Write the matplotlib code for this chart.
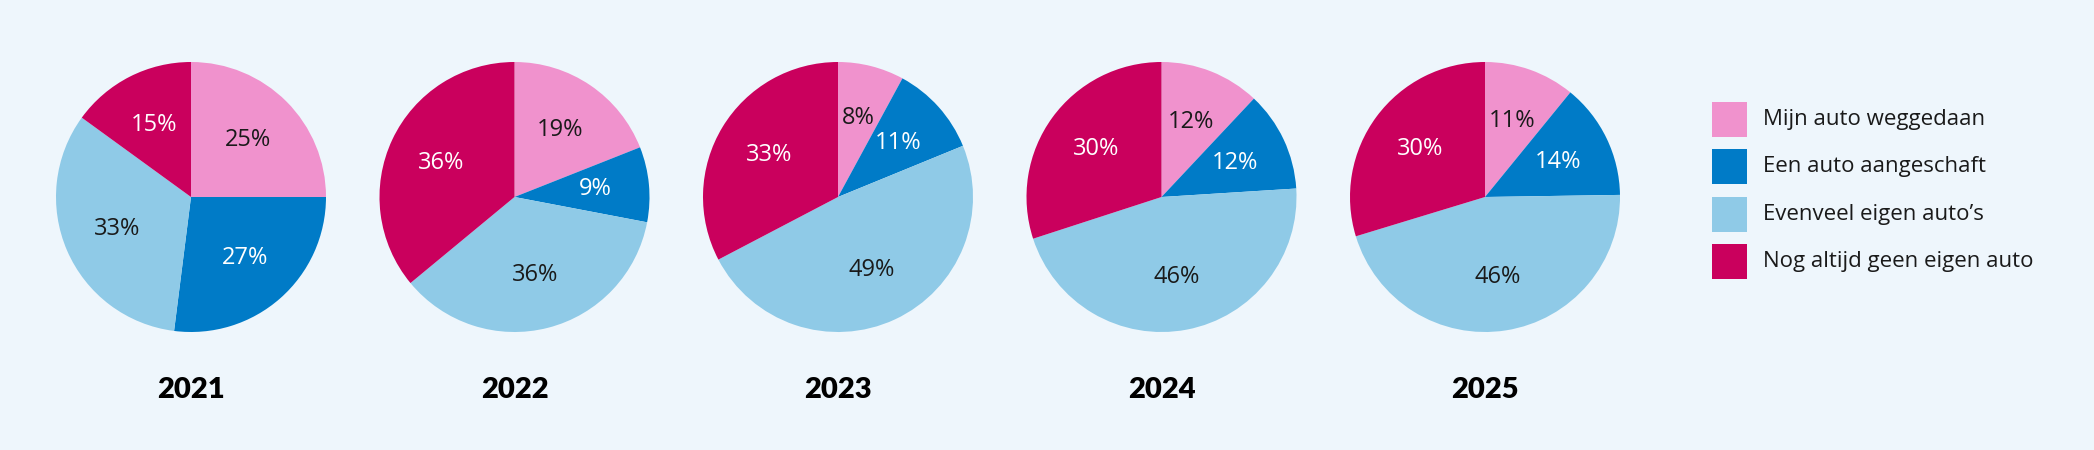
import matplotlib.pyplot as plt
from matplotlib.patches import Rectangle

years = ['2021', '2022', '2023', '2024', '2025']
categories = ['Mijn auto weggedaan', 'Een auto aangeschaft',
              'Evenveel eigen auto\u2019s', 'Nog altijd geen eigen auto']
# per year: weggedaan, aangeschaft, evenveel, geen auto
shares = [
    [25, 27, 33, 15],
    [19, 9, 36, 36],
    [8, 11, 49, 33],
    [12, 12, 46, 30],
    [11, 14, 46, 30],
]
colors = ['#F092CD', '#007BC7', '#8FCAE7', '#CA005D']
text_colors = ['#1a1a1a', 'white', '#1a1a1a', 'white']
bg = '#EEF6FC'

plt.rcParams['font.family'] = ['Open Sans', 'DejaVu Sans']

W, H = 2094, 450
fig = plt.figure(figsize=(W / 100, H / 100), dpi=100, facecolor=bg)

r = 135
cy = 197
for i, (year, vals) in enumerate(zip(years, shares)):
    cx = 191 + i * 323.5
    ax = fig.add_axes([(cx - r) / W, (H - cy - r) / H, 2 * r / W, 2 * r / H])
    it = iter(vals)
    wedges, _, autotexts = ax.pie(vals, colors=colors, startangle=90, counterclock=False,
                                  autopct=lambda p: f'{next(it)}%', pctdistance=0.6,
                                  wedgeprops=dict(linewidth=0))
    for t, c in zip(autotexts, text_colors):
        t.set_color(c)
        t.set_fontsize(17)
    ax.set_xlim(-1, 1)
    ax.set_ylim(-1, 1)
    ax.set_aspect('equal')
    fig.text(cx / W, 1 - 390 / H, year, ha='center', va='center',
             fontsize=21, fontweight='heavy', family='Lato', color='black')

# legend drawn by hand: square + label per category
sq = 35
for j, (lab, c) in enumerate(zip(categories, colors)):
    yc = 119.5 + j * 47.3
    fig.patches.append(Rectangle((1712 / W, (H - yc - sq / 2) / H), sq / W, sq / H,
                                 facecolor=c, edgecolor='none',
                                 transform=fig.transFigure, figure=fig))
    fig.text(1763 / W, 1 - yc / H, lab, ha='left', va='center', fontsize=16, color='#1a1a1a')

fig.savefig('out.png', dpi=100, facecolor=bg)
